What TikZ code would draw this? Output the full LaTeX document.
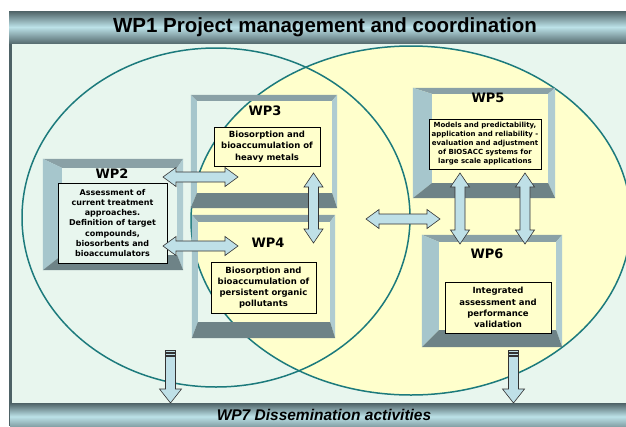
\documentclass[tikz,border=0pt]{standalone}
\usepackage{fontspec}
\setmainfont{DejaVu Sans}
\newfontfamily\headfont{Liberation Sans}
\usetikzlibrary{calc, fit, positioning}
\definecolor{bggreen}{RGB}{232,246,238}
\definecolor{ovalyellow}{RGB}{255,255,204}
\definecolor{ovalline}{RGB}{28,122,124}
\definecolor{facetop}{RGB}{138,161,166}
\definecolor{faceside}{RGB}{166,198,204}
\definecolor{facebottom}{RGB}{110,131,135}
\definecolor{arrowblue}{RGB}{191,224,231}
\definecolor{bardark}{RGB}{78,98,102}
\definecolor{barlight}{RGB}{188,226,232}

\tikzset{
  oval/.style={ovalline, line width=1.5pt},
  wplabel/.style={font=\bfseries\fontsize{13}{15}\selectfont},
  taskbox/.style={draw=black, line width=0.7pt, inner sep=1pt, align=center,
    font=\bfseries\fontsize{8.5}{11.2}\selectfont},
  blockarrow/.style={fill=arrowblue, draw=black!80, line width=0.6pt},
  bartext/.style={font=\headfont\bfseries\fontsize{20.5}{24}\selectfont}
}

% bevelled frame: name, nw corner, se corner, left, top, right, bottom face
\newcommand{\wpbox}[7]{%
  \node[fit={(#2) (#3)}, inner sep=0pt] (#1) {};
  \fill[facetop] let \p1=(#1.north west), \p2=(#1.south east) in
    (\x1,\y1) -- (\x2,\y1) -- (\x2-#6pt,\y1-#5pt) -- (\x1+#4pt,\y1-#5pt) -- cycle;
  \fill[faceside] let \p1=(#1.north west), \p2=(#1.south east) in
    (\x1,\y1) -- (\x1+#4pt,\y1-#5pt) -- (\x1+#4pt,\y2+#7pt) -- (\x1,\y2) -- cycle;
  \fill[faceside!90!white] let \p1=(#1.north west), \p2=(#1.south east) in
    (\x2,\y1) -- (\x2-#6pt,\y1-#5pt) -- (\x2-#6pt,\y2+#7pt) -- (\x2,\y2) -- cycle;
  \fill[facebottom] let \p1=(#1.north west), \p2=(#1.south east) in
    (\x1,\y2) -- (\x2,\y2) -- (\x2-#6pt,\y2+#7pt) -- (\x1+#4pt,\y2+#7pt) -- cycle;
}

% double block arrows, horizontal and vertical
\newcommand{\harrow}[2]{%
  \filldraw[blockarrow] let \p1=(#1), \p2=(#2) in
    (\x1,\y1) -- ++(13pt,9.5pt) -- ++(0pt,-4.5pt) -- (\x2-13pt,\y1+5pt) -- ++(0pt,4.5pt)
    -- (\x2,\y1) -- ++(-13pt,-9.5pt) -- ++(0pt,4.5pt) -- (\x1+13pt,\y1-5pt) -- ++(0pt,-4.5pt) -- cycle;}
\newcommand{\varrow}[2]{%
  \filldraw[blockarrow] let \p1=(#1), \p2=(#2) in
    (\x1,\y1) -- ++(9.5pt,-14pt) -- ++(-4.5pt,0pt) -- (\x1+5pt,\y2+14pt) -- ++(4.5pt,0pt)
    -- (\x1,\y2) -- ++(-9.5pt,14pt) -- ++(4.5pt,0pt) -- (\x1-5pt,\y1-14pt) -- ++(-4.5pt,0pt) -- cycle;}
% striped arrow down to the dissemination bar
\newcommand{\striparrow}[2]{%
  \filldraw[blockarrow] let \p1=(#1) in (\x1-5pt,\y1) rectangle (\x1+5pt,\y1-2.5pt);
  \filldraw[blockarrow] let \p1=(#1) in (\x1-5pt,\y1-3.5pt) rectangle (\x1+5pt,\y1-5.5pt);
  \filldraw[blockarrow] let \p1=(#1), \p2=(#2) in
    (\x1-5pt,\y1-6.5pt) -- (\x1+5pt,\y1-6.5pt) -- (\x1+5pt,\y2+14pt) -- (\x1+11pt,\y2+14pt)
    -- (\x1,\y2) -- (\x1-11pt,\y2+14pt) -- (\x1-5pt,\y2+14pt) -- cycle;}

\begin{document}
\begin{tikzpicture}[x=1pt, y=-1pt]
  \useasboundingbox (0,0) rectangle (626,426);
  \clip (0,0) rectangle (626,426);

  % Background panel
  \fill[bggreen] (12,43) rectangle (640,403);
  \fill[bardark] (9,11) rectangle (12,426);

  % The two overlapping ovals
  \fill[ovalyellow] (411,220.5) ellipse [x radius=220pt, y radius=174.5pt];
  \draw[oval] (216,217.5) ellipse [x radius=194pt, y radius=169.5pt];
  \draw[oval] (411,220.5) ellipse [x radius=220pt, y radius=174.5pt];

  % Work package frames
  \wpbox{wp2}{43,159}{183,270}{19}{9}{6}{15}
  \wpbox{wp3}{191,95}{337,208}{6}{6}{5}{15}
  \wpbox{wp4}{192,215}{335,338}{6}{7}{5}{16}
  \wpbox{wp5}{413,88}{555,198}{19}{6}{7}{15}
  \wpbox{wp6}{422,235}{562,347}{17}{7}{6}{17}

  % Labels and task boxes
  \node[wplabel] (wp2lab) at (112,174) {WP2};
  \node[taskbox, fill=bggreen, minimum width=109pt, minimum height=80pt,
    font=\bfseries\fontsize{8}{10.3}\selectfont] (wp2task) at (112.5,223)
    {Assessment of\\current treatment\\approaches.\\Definition of target\\compounds,\\biosorbents and\\bioaccumulators};
  \node[wplabel] (wp3lab) at (265,111) {WP3};
  \node[taskbox, fill=ovalyellow, minimum width=106pt, minimum height=39pt] (wp3task) at (267,146.5)
    {Biosorption and\\bioaccumulation of\\heavy metals};
  \node[wplabel] (wp4lab) at (268,243) {WP4};
  \node[taskbox, fill=ovalyellow, minimum width=105pt, minimum height=51pt] (wp4task) at (263.5,287.5)
    {Biosorption and\\bioaccumulation of\\persistent organic\\pollutants};
  \node[wplabel] (wp5lab) at (488,98) {WP5};
  \node[taskbox, fill=ovalyellow, minimum width=112pt, minimum height=50pt,
    font=\bfseries\fontsize{7}{9}\selectfont] (wp5task) at (485,144)
    {Models and predictability,\\application and reliability -\\evaluation and adjustment\\of BIOSACC systems for\\large scale applications};
  \node[wplabel] (wp6lab) at (487,254) {WP6};
  \node[taskbox, fill=ovalyellow, minimum width=106pt, minimum height=51pt] (wp6task) at (498,307.5)
    {Integrated\\assessment and\\performance\\validation};

  % Arrow ends
  \coordinate (a23l) at (163,177);   \coordinate (a23r) at (238,177);
  \coordinate (a24l) at (163,246);   \coordinate (a24r) at (238,246);
  \coordinate (a34t) at (313.5,173); \coordinate (a34b) at (313.5,243);
  \coordinate (a45l) at (366,219);   \coordinate (a45r) at (440,219);
  \coordinate (a56lt) at (460,173);  \coordinate (a56lb) at (460,244);
  \coordinate (a56rt) at (525,173);  \coordinate (a56rb) at (525,244);
  \coordinate (d4t) at (170.5,350);  \coordinate (d4b) at (170.5,403);
  \coordinate (d6t) at (513.5,350);  \coordinate (d6b) at (513.5,403);

  % Links between work packages
  \harrow{a23l}{a23r}
  \harrow{a24l}{a24r}
  \varrow{a34t}{a34b}
  \harrow{a45l}{a45r}
  \varrow{a56lt}{a56lb}
  \varrow{a56rt}{a56rb}
  \striparrow{d4t}{d4b}
  \striparrow{d6t}{d6b}

  % Top and bottom bars
  \shade[top color=bardark, bottom color=bardark!90!barlight, middle color=barlight] (9,11) rectangle (640,43);
  \node[bartext] (wp1) at (325,27) {WP1 Project management and coordination};
  \shade[top color=bardark, bottom color=bardark!70!barlight, middle color=barlight] (10,403) rectangle (640,430);
  \node[bartext, font=\headfont\bfseries\itshape\fontsize{15.5}{18}\selectfont] (wp7) at (324,415) {WP7 Dissemination activities};
\end{tikzpicture}
\end{document}
